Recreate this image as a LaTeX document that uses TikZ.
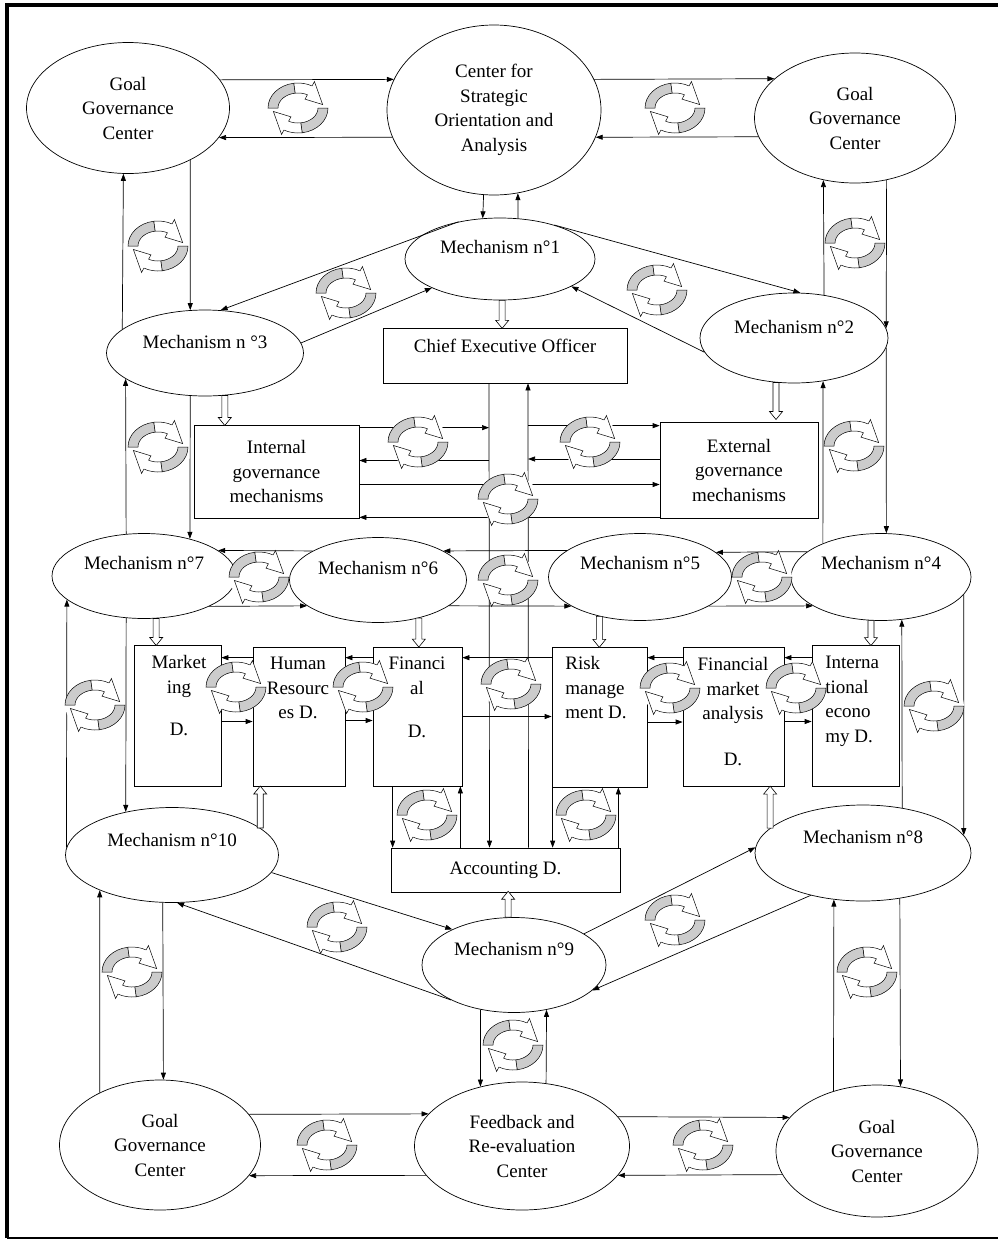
\documentclass[tikz,border=0pt]{standalone}
\usepackage{fontspec}
\setmainfont{Liberation Serif}
\usetikzlibrary{shapes.geometric,arrows.meta}

\tikzset{
  every node/.style={font=\fontsize{19}{24.5}\selectfont, inner sep=0pt},
  sz/.style 2 args={minimum width=#1pt, minimum height=#2pt},
  oval/.style={ellipse, draw, align=center},
  mech/.style={ellipse, draw, text height=13pt, text depth=22pt},
  box/.style={rectangle, draw, align=center},
  txt/.style={align=center},
  pics/cyc/.style={code={
    \fill[white] (0,0) ellipse [x radius=30, y radius=25];
    \filldraw[fill=gray!40, line width=0.5pt] (180:30 and 25) arc[start angle=180, end angle=262, x radius=30, y radius=25]
      -- (262:20 and 15) arc[start angle=262, end angle=180, x radius=20, y radius=15] -- cycle;
    \filldraw[fill=white, line width=0.5pt] (262:30 and 25) arc[start angle=262, end angle=298, x radius=30, y radius=25]
      -- (298:35 and 30) -- (350:25 and 20) -- (298:15 and 10) -- (298:20 and 15)
      arc[start angle=298, end angle=262, x radius=20, y radius=15] -- cycle;
    \filldraw[fill=gray!40, line width=0.5pt] (0:30 and 25) arc[start angle=0, end angle=82, x radius=30, y radius=25]
      -- (82:20 and 15) arc[start angle=82, end angle=0, x radius=20, y radius=15] -- cycle;
    \filldraw[fill=white, line width=0.5pt] (82:30 and 25) arc[start angle=82, end angle=118, x radius=30, y radius=25]
      -- (118:35 and 30) -- (170:25 and 20) -- (118:15 and 10) -- (118:20 and 15)
      arc[start angle=118, end angle=82, x radius=20, y radius=15] -- cycle;
  }},
  pics/hollow/.style={code={
    \draw[fill=white, line width=0.6pt] (-3,0) -- (3,0) -- (3,#1-8) -- (6.5,#1-8) -- (0,#1) -- (-6.5,#1-8) -- (-3,#1-8) -- cycle;
  }},
}

\begin{document}
\begin{tikzpicture}[x=1pt, y=-1pt, line width=0.7pt, >={Triangle[length=7pt,width=5pt]}]
\useasboundingbox (0,0) rectangle (998,1240);
\draw[line width=4pt] (7,1238) -- (7,4.5) -- (1000,4.5);
\draw[line width=1.3pt] (7,1238) -- (1000,1238);

% 中心与机制
\node[oval, sz={203}{131}] (gtl) at (128,108) {Goal\\Governance\\Center};
\node[oval, sz={214}{170}] (csoa) at (494,110) {Center for\\Strategic\\Orientation and\\Analysis};
\node[oval, sz={201}{130}] (gtr) at (855,118) {Goal\\Governance\\Center};
\node[mech, sz={190}{82}, text depth=24pt] (m1) at (500,259) {Mechanism n°1};
\node[mech, sz={197}{86}] (m3) at (205,353) {Mechanism n °3};
\node[mech, sz={188}{90}] (m2) at (794,338) {Mechanism n°2};
\node[mech, sz={184}{85}, text depth=26pt] (m7) at (144,576) {Mechanism n°7};
\node[mech, sz={177}{85}, text depth=24pt] (m6) at (378,580) {Mechanism n°6};
\node[mech, sz={183}{87}, text depth=28pt] (m5) at (640,577) {Mechanism n°5};
\node[mech, sz={180}{87}, text depth=28pt] (m4) at (881,577) {Mechanism n°4};
\node[mech, sz={213}{95}, text depth=30pt] (m10) at (172,855) {Mechanism n°10};
\node[mech, sz={184}{95}, text depth=33pt] (m9) at (514,965) {Mechanism n°9};
\node[mech, sz={216}{96}, text depth=32pt] (m8) at (863,853) {Mechanism n°8};
\node[oval, sz={201}{130}] (gbl) at (160,1145) {Goal\\Governance\\Center};
\node[oval, sz={215}{128}] (fb) at (522,1146) {Feedback and\\Re-evaluation\\Center};
\node[oval, sz={202}{132}] (gbr) at (877,1151) {Goal\\Governance\\Center};

% 部门
\node[box, sz={244}{55}, text height=13pt, text depth=20pt] (ceo) at (505,355.5) {Chief Executive Officer};
\node[box, sz={165}{93}] (igm) at (276.5,471.5) {Internal\\governance\\mechanisms};
\node[box, sz={158}{96}] (egm) at (739,470) {External\\governance\\mechanisms};
\node[box, sz={87}{141}] (mkt) at (177.5,715.5) {};
\node[box, sz={92}{139}] (hr) at (299,716.5) {};
\node[box, sz={89}{139}] (fin) at (417.5,716.5) {};
\node[box, sz={95}{140}] (risk) at (599.5,717) {};
\node[box, sz={101}{139}] (fma) at (733.5,716.5) {};
\node[box, sz={87}{141}] (ie) at (855.5,715.5) {};
\node[box, sz={229}{44}] (acc) at (505.5,870) {Accounting D.};
\node[txt, anchor=north] (mkt-t) at (179,655) {Market\\ing\\[18pt]D.};
\node[txt, anchor=north] (hr-t) at (298,657) {Human\\Resourc\\es D.};
\node[txt, anchor=north] (fin-t) at (417,657) {Financi\\al\\[19pt]D.};
\node[align=left, anchor=north west] (risk-t) at (565,656) {Risk\\manage\\ment D.};
\node[txt, anchor=north] (fma-t) at (733,657) {Financial\\market\\analysis\\[21pt]D.};
\node[align=left, anchor=north west] (ie-t) at (825,656) {Interna\\tional\\econo\\my D.};

% 上部连线
\draw[->] (gtl.17) -- (csoa.163);
\draw[->] (csoa.195) -- (gtl.-18);
\draw[->] (csoa.17) -- (gtr.154);
\draw[->] (gtr.191) -- (csoa.-15);
\draw[->] (m3.164) -- (gtl.266);
\draw[->] (gtl.-40) -- (m3.109);
\draw[->] (m2.55) -- (gtr.-117);
\draw[->] (gtr.-63) -- (m2.6);
\draw[->] (m2.-6) -- (m4.83);
\draw[->] (m4.150) -- (m2.-56);
\draw[->] (m7.113) -- (m3.198);
\draw[->] (m3.251) -- (m7.39);
\draw[->] (csoa.-97) -- (m1.113);
\draw[->] (m1.66) -- (csoa.-74);
\draw[->] (m1.138) -- (m3.70);
\draw[->] (m3.6) -- (m1.203);
\draw[->] (m1.32) -- (m2.82);
\draw[->] (m2.189) -- (m1.-21);

% CEO 两条竖线
\coordinate (vl) at ([xshift=-16]ceo.south);
\coordinate (vr) at ([xshift=23]ceo.south);
\draw[->] (vl) -- ([xshift=-16]acc.north);
\draw[->] ([xshift=23]acc.north) -- (vr);
\coordinate (ia) at ([yshift=-3]igm.north east);
\coordinate (ib) at ([yshift=11]igm.east);
\coordinate (ic) at ([yshift=-13]igm.east);
\coordinate (id) at ([yshift=1]igm.south east);
\coordinate (ea) at ([yshift=-4]egm.north west);
\coordinate (eb) at ([yshift=11]egm.west);
\draw[->] (ia) -- (ia -| vl);
\draw[->] (ib -| vl) -- (ib);
\draw[->] (ic) -- (ic -| egm.west);
\draw[->] (id -| egm.west) -- (id);
\draw[->] (ea -| vr) -- (ea);
\draw[->] (eb) -- (eb -| vr);

% 机制一排
\draw[->] (m6.156) -- (m7.19);
\draw[->] (m7.-25) -- (m6.200);
\draw[->] (m5.160) -- (m6.24);
\draw[->] (m6.-20) -- (m5.203);
\draw[->] (m4.161) -- (m5.18);
\draw[->] (m5.-23) -- (m4.203);
\draw[->] (m10.176) -- (m7.197);
\draw[->] (m7.247) -- (m10.137);
\draw[->] (m8.49) -- (m4.-64);
\draw[->] (m4.-12) -- (m8.10);

% 部门之间
\coordinate (d1) at ([yshift=-11]hr.north west);
\coordinate (d2) at ([yshift=-6]mkt.east);
\coordinate (d3) at ([yshift=-11]fin.north west);
\coordinate (d4) at ([yshift=-4]hr.east);
\coordinate (d5) at ([yshift=-11]risk.north west);
\coordinate (d6) at (fin.east);
\coordinate (d7) at ([yshift=-11]fma.north west);
\coordinate (d8) at ([yshift=-5]risk.east);
\coordinate (d9) at ([yshift=-13]ie.north west);
\coordinate (d10) at ([yshift=-5]fma.east);
\draw[->] (d1) -- (d1 -| mkt.east);
\draw[->] (d2) -- (d2 -| hr.west);
\draw[->] (d3) -- (d3 -| hr.east);
\draw[->] (d4) -- (d4 -| fin.west);
\draw[->] (d5) -- (d5 -| fin.east);
\draw[->] (d6) -- (d6 -| risk.west);
\draw[->] (d7) -- (d7 -| risk.east);
\draw[->] (d8) -- (d8 -| fma.west);
\draw[->] (d9) -- (d9 -| fma.east);
\draw[->] (d10) -- (d10 -| ie.west);
\coordinate (f1) at ([xshift=20]fin.south west);
\coordinate (f2) at ([xshift=-2]fin.south east);
\coordinate (r1) at ([xshift=1]risk.south west);
\coordinate (r2) at ([xshift=-29]risk.south east);
\draw[->] (f1) -- (f1 |- acc.north);
\draw[->] (f2 |- acc.north) -- (f2);
\draw[->] (r1) -- (r1 |- acc.north);
\draw[->] (r2 |- acc.north) -- (r2);

% 下部连线
\draw[->] (m10.-10) -- (m9.150);
\draw[->] (m9.209) -- (m10.-84);
\draw[->] (m9.24) -- (m8.177);
\draw[->] (m8.219) -- (m9.-18);
\draw[->] (gbl.139) -- (m10.206);
\draw[->] (m10.259) -- (gbl.87);
\draw[->] (m9.233) -- (fb.125);
\draw[->] (fb.69) -- (m9.-54);
\draw[->] (gbr.126) -- (m8.238);
\draw[->] (m8.-51) -- (gbr.70);
\draw[->] (gbl.19) -- (fb.161);
\draw[->] (fb.197) -- (gbl.-19);
\draw[->] (fb.17) -- (gbr.159);
\draw[->] (gbr.194) -- (fb.-17);

% 空心箭头
\pic at (m1.-87) {hollow=28};
\pic at (m3.-65) {hollow=30};
\pic at (m2.-112) {hollow=37};
\pic at (m7.-74) {hollow=27};
\pic at (m6.-43) {hollow=29};
\pic at (m5.-136) {hollow=31};
\pic at (m4.-103) {hollow=25};
\pic[rotate=180] at (m10.17) {hollow=42};
\pic[rotate=180] at (m8.165) {hollow=42};
\pic[rotate=180] at (m9.97) {hollow=26};

% 循环图标
\foreach \cx/\cy in {298/108, 675/108, 158/246, 855/243, 346/293, 657/290, 158/447, 854/446,
  418/442, 590/442, 508/499, 259/577, 508/580, 762/577, 95/705, 934/706, 236/687, 363/687,
  511/684, 670/688, 796/688, 427/815, 586/815, 337/927, 675/920, 132/972, 513/1045, 867/972,
  327/1145, 703/1145}
  \pic at (\cx,\cy) {cyc};
\end{tikzpicture}
\end{document}
